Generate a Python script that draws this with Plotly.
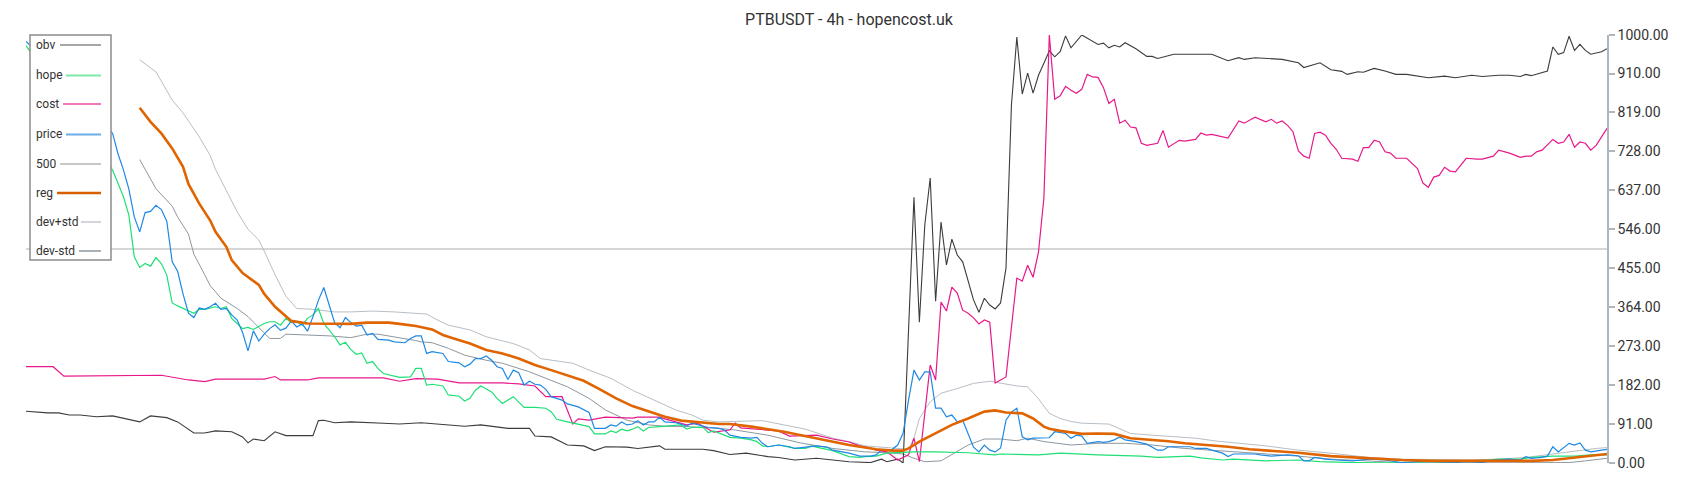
import plotly.graph_objects as go

# titulo e eixo
title = "PTBUSDT - 4h - hopencost.uk"
y_ticks = [0, 91, 182, 273, 364, 455, 546, 637, 728, 819, 910, 1000]
level_500 = 500
last_bar = 292

# series as (bar, value) pairs
obv = [(0, 121), (4, 117), (6, 117), (8, 112), (10, 112), (13, 108), (16, 110), (21, 96), (23, 110), (26, 106),
       (28, 96), (31, 70), (33, 70), (35, 75), (38, 73), (40, 61), (41, 47), (42, 56), (44, 52), (46, 73),
       (48, 64), (53, 64), (54, 99), (55, 100), (57, 94), (60, 96), (66, 93), (69, 91), (73, 94), (78, 89),
       (81, 86), (84, 89), (89, 81), (93, 81), (94, 63), (97, 61), (100, 42), (103, 40), (105, 29), (107, 38),
       (111, 37), (113, 34), (117, 40), (118, 32), (122, 32), (125, 32), (127, 29), (130, 20), (133, 23), (137, 15),
       (139, 13), (142, 7), (146, 11), (149, 7), (152, 3), (156, 1), (158, 9), (159, 3), (161, 9), (162, 0),
       (164, 621), (165, 329), (166, 556), (167, 666), (168, 378), (169, 563), (170, 463), (171, 523), (172, 486),
       (173, 470), (174, 427), (175, 381), (176, 352), (177, 385), (178, 369), (179, 360), (180, 374), (181, 456),
       (182, 836), (183, 995), (184, 862), (185, 911), (186, 864), (187, 906), (188, 934), (189, 963), (190, 949),
       (191, 961), (192, 998), (193, 970), (195, 1000), (197, 984), (198, 978), (199, 981), (200, 970), (201, 976),
       (202, 972), (203, 982), (205, 968), (207, 950), (208, 950), (209, 945), (212, 955), (219, 955), (222, 940),
       (224, 947), (225, 943), (227, 947), (229, 945), (232, 943), (235, 935), (236, 924), (239, 935), (241, 919),
       (243, 915), (244, 908), (246, 914), (247, 913), (249, 922), (251, 916), (253, 908), (255, 908), (259, 900),
       (262, 904), (264, 900), (267, 906), (269, 903), (272, 906), (274, 906), (276, 903), (277, 908), (278, 905),
       (281, 916), (282, 972), (283, 955), (284, 959), (285, 997), (286, 964), (287, 978), (288, 964), (289, 955),
       (291, 961), (292, 968)]

cost = [(0, 225), (5, 225), (7, 203), (14, 204), (25, 205), (30, 194), (33, 190), (35, 196), (44, 196), (46, 202),
        (47, 194), (52, 194), (54, 199), (66, 199), (69, 191), (72, 197), (76, 196), (80, 187), (88, 187), (91, 185),
        (94, 180), (96, 155), (99, 155), (101, 91), (102, 103), (104, 100), (107, 107), (112, 105), (113, 107),
        (117, 107), (118, 103), (122, 89), (124, 93), (127, 72), (130, 77), (131, 93), (132, 82), (137, 77),
        (139, 75), (141, 63), (146, 65), (149, 56), (152, 49), (154, 40), (156, 35), (157, 30), (159, 26), (161, 7),
        (163, 19), (164, 58), (165, 3), (167, 229), (168, 194), (169, 376), (170, 355), (171, 411), (172, 397),
        (173, 357), (174, 350), (175, 339), (176, 325), (177, 334), (178, 329), (179, 187), (181, 201), (183, 432),
        (184, 425), (185, 462), (186, 434), (187, 493), (188, 619), (189, 1000), (190, 850), (191, 858), (192, 880),
        (193, 871), (194, 864), (195, 873), (196, 908), (197, 902), (198, 901), (199, 877), (200, 840), (201, 850),
        (202, 794), (203, 801), (204, 785), (205, 783), (206, 747), (207, 742), (209, 747), (210, 777), (211, 738),
        (213, 754), (214, 752), (216, 756), (217, 771), (218, 766), (219, 768), (222, 759), (224, 799), (225, 794),
        (227, 808), (229, 797), (230, 803), (231, 794), (232, 799), (233, 789), (234, 774), (235, 729), (236, 717),
        (237, 712), (238, 770), (239, 773), (240, 766), (241, 747), (242, 733), (243, 712), (245, 710), (246, 705),
        (247, 737), (248, 737), (249, 754), (250, 750), (251, 727), (252, 724), (253, 712), (255, 712), (256, 700),
        (257, 688), (258, 654), (259, 644), (260, 668), (261, 672), (262, 691), (263, 682), (264, 680), (266, 712),
        (268, 710), (269, 710), (271, 717), (272, 731), (274, 724), (276, 714), (277, 717), (278, 717), (279, 727),
        (280, 731), (282, 756), (283, 747), (284, 750), (285, 768), (286, 738), (287, 750), (288, 747), (289, 731),
        (290, 742), (292, 782)]

price = [(0, 985), (8, 890), (13, 815), (16, 770), (17, 722), (18, 685), (19, 640), (20, 575), (21, 540), (22, 585),
         (23, 588), (24, 602), (25, 592), (26, 565), (27, 470), (28, 448), (29, 395), (30, 350), (31, 340), (32, 362),
         (33, 359), (34, 365), (35, 373), (36, 359), (37, 361), (38, 346), (39, 334), (40, 305), (41, 262), (42, 309),
         (43, 285), (44, 301), (45, 314), (46, 323), (47, 310), (48, 315), (49, 332), (50, 318), (51, 325), (52, 308),
         (53, 342), (54, 380), (55, 410), (56, 367), (57, 328), (58, 316), (59, 340), (60, 328), (61, 320), (62, 322),
         (63, 299), (64, 303), (65, 289), (67, 287), (68, 283), (70, 281), (71, 291), (72, 297), (73, 297), (74, 256),
         (75, 260), (77, 256), (78, 237), (80, 234), (81, 225), (82, 231), (83, 244), (84, 244), (85, 250), (86, 240),
         (87, 225), (88, 221), (89, 195), (90, 217), (91, 211), (92, 182), (93, 191), (94, 184), (95, 182), (96, 172),
         (97, 155), (99, 147), (100, 138), (102, 131), (104, 118), (105, 81), (107, 81), (108, 89), (109, 86),
         (110, 96), (111, 89), (112, 91), (113, 99), (114, 89), (115, 96), (116, 96), (117, 107), (118, 96), (120, 94),
         (121, 91), (122, 86), (123, 93), (125, 87), (126, 83), (127, 82), (128, 81), (129, 77), (130, 65), (132, 60),
         (134, 58), (135, 60), (136, 46), (137, 38), (138, 40), (139, 42), (141, 38), (142, 34), (144, 37), (146, 40),
         (148, 37), (149, 30), (152, 23), (154, 16), (156, 16), (157, 19), (158, 30), (160, 32), (161, 42), (162, 70),
         (163, 147), (164, 217), (165, 194), (166, 213), (167, 213), (168, 128), (169, 128), (170, 108), (171, 112),
         (172, 96), (173, 100), (174, 70), (175, 37), (176, 26), (177, 42), (178, 30), (179, 26), (180, 35),
         (181, 100), (182, 119), (183, 128), (184, 61), (185, 54), (186, 58), (187, 58), (189, 59), (190, 73),
         (192, 69), (193, 58), (194, 65), (195, 63), (196, 46), (198, 50), (199, 48), (200, 50), (201, 54), (202, 61),
         (203, 54), (205, 50), (207, 44), (209, 30), (210, 30), (211, 38), (213, 38), (215, 38), (216, 34), (218, 34),
         (219, 30), (221, 23), (222, 15), (223, 21), (225, 21), (227, 21), (228, 19), (230, 16), (233, 19), (235, 17),
         (236, 5), (237, 5), (238, 13), (240, 9), (242, 7), (245, 5), (248, 9), (251, 7), (254, 1), (257, 3), (260, 3),
         (264, 1), (266, 3), (269, 1), (271, 7), (274, 9), (276, 7), (277, 15), (278, 11), (280, 13), (281, 16),
         (282, 38), (283, 26), (285, 46), (286, 42), (287, 47), (288, 30), (289, 26), (291, 30), (292, 32)]

hope = [(0, 975), (8, 830), (13, 750), (16, 684), (18, 622), (19, 579), (20, 482), (21, 457), (22, 466), (23, 460),
        (24, 480), (25, 466), (26, 439), (27, 374), (28, 367), (30, 355), (31, 350), (32, 359), (33, 359), (35, 365),
        (36, 361), (37, 365), (38, 338), (39, 326), (40, 314), (41, 317), (42, 312), (44, 326), (45, 330), (46, 330),
        (47, 322), (48, 338), (49, 328), (50, 330), (51, 322), (52, 338), (53, 346), (54, 361), (55, 326), (57, 295),
        (58, 276), (59, 282), (60, 265), (61, 254), (62, 257), (63, 233), (64, 237), (65, 221), (66, 209), (69, 200),
        (71, 201), (72, 221), (73, 221), (74, 182), (75, 184), (77, 180), (78, 159), (80, 156), (81, 145), (82, 151),
        (83, 170), (84, 180), (86, 166), (87, 151), (88, 139), (90, 155), (92, 130), (94, 130), (96, 128), (97, 120),
        (98, 102), (100, 96), (102, 91), (104, 85), (105, 68), (107, 68), (108, 75), (109, 71), (110, 79), (111, 75),
        (112, 79), (113, 85), (114, 75), (115, 83), (117, 85), (118, 86), (121, 89), (122, 79), (123, 83), (125, 84),
        (126, 71), (127, 75), (129, 65), (130, 60), (132, 58), (134, 54), (135, 50), (136, 40), (137, 38), (139, 42),
        (141, 37), (142, 34), (144, 34), (145, 40), (147, 34), (149, 29), (152, 15), (154, 13), (155, 15), (157, 16),
        (159, 23), (161, 24), (164, 26), (168, 26), (174, 24), (179, 19), (180, 21), (187, 19), (191, 23), (198, 19),
        (206, 16), (209, 13), (215, 16), (217, 12), (221, 7), (223, 9), (229, 5), (235, 7), (239, 3), (245, 1),
        (257, 1), (260, 0), (266, 3), (270, 7), (272, 9), (276, 9), (278, 13), (282, 16), (286, 16), (289, 19),
        (292, 19)]

reg = [(21, 830), (23, 797), (25, 770), (27, 735), (29, 692), (30, 652), (32, 606), (34, 567), (35, 540), (37, 505),
       (38, 474), (40, 444), (43, 416), (44, 395), (46, 365), (48, 343), (49, 332), (52, 326), (56, 326), (60, 325),
       (63, 328), (67, 328), (69, 325), (72, 320), (75, 312), (77, 299), (79, 291), (82, 279), (85, 264), (88, 256),
       (91, 244), (94, 229), (97, 217), (100, 205), (103, 192), (106, 172), (109, 151), (112, 133), (115, 120),
       (118, 108), (121, 99), (125, 94), (128, 91), (130, 91), (134, 85), (140, 73), (146, 58), (152, 42), (157, 32),
       (160, 29), (162, 29), (163, 34), (165, 50), (168, 69), (171, 89), (174, 104), (177, 120), (179, 123),
       (181, 118), (184, 116), (186, 104), (188, 85), (189, 80), (191, 75), (193, 71), (195, 68), (198, 69),
       (201, 68), (204, 58), (208, 55), (211, 51), (214, 46), (218, 42), (222, 38), (226, 32), (231, 28), (235, 24),
       (241, 16), (248, 11), (254, 7), (260, 5), (278, 5), (282, 7), (285, 11), (288, 16), (292, 21)]

dev_hi = [(21, 942), (24, 914), (27, 848), (29, 818), (32, 762), (34, 719), (35, 686), (37, 637), (39, 587),
          (41, 546), (43, 521), (44, 495), (46, 440), (48, 390), (50, 361), (53, 359), (57, 353), (60, 353),
          (64, 355), (68, 353), (72, 350), (74, 348), (76, 334), (78, 322), (82, 311), (85, 295), (90, 279),
          (93, 264), (95, 244), (98, 238), (101, 233), (104, 217), (108, 198), (112, 170), (116, 147), (120, 124),
          (123, 112), (125, 100), (128, 96), (136, 99), (140, 89), (144, 79), (149, 58), (152, 50), (155, 40),
          (158, 37), (162, 34), (163, 32), (164, 58), (165, 104), (167, 143), (169, 163), (172, 174), (175, 186),
          (178, 191), (180, 186), (183, 180), (185, 178), (187, 150), (189, 116), (191, 104), (193, 97), (195, 93),
          (200, 91), (204, 69), (208, 65), (211, 63), (216, 58), (220, 51), (224, 46), (229, 40), (235, 30),
          (241, 23), (248, 13), (254, 9), (266, 7), (272, 9), (277, 13), (282, 21), (286, 29), (290, 34), (292, 36)]

dev_lo = [(21, 709), (24, 641), (27, 600), (28, 575), (30, 535), (31, 488), (33, 440), (34, 415), (36, 385),
          (39, 361), (41, 342), (43, 317), (45, 291), (47, 291), (48, 301), (52, 299), (56, 297), (60, 293),
          (63, 301), (65, 301), (68, 295), (72, 286), (73, 283), (75, 281), (78, 268), (81, 252), (85, 240),
          (88, 233), (93, 213), (96, 198), (100, 178), (104, 151), (107, 124), (111, 100), (115, 89), (118, 86),
          (122, 85), (128, 81), (131, 77), (137, 65), (143, 47), (149, 34), (155, 26), (159, 24), (162, 21),
          (164, 11), (166, 3), (169, 5), (171, 20), (174, 42), (177, 56), (180, 56), (183, 52), (185, 58), (188, 50),
          (191, 45), (193, 42), (198, 46), (203, 46), (208, 42), (214, 34), (220, 29), (226, 24), (232, 19),
          (235, 16), (241, 9), (248, 5), (254, 1), (260, 0), (278, 0), (285, 1), (288, 5), (292, 11)]

line_500 = [(0, level_500), (last_bar, level_500)]

# the page has the browser's 8px body margin, so figure coords = page coords - 8
OFF = 8
W, H = 1700, 500
PLOT_L, PLOT_R, PLOT_T, PLOT_B = 26, 1607, 35, 463   # plot area on the page


def px(x):
    return (x - PLOT_L) / (PLOT_R - PLOT_L)


def py(y):
    return (PLOT_B - y) / (PLOT_B - PLOT_T)


def split(pairs):
    return [p[0] for p in pairs], [p[1] for p in pairs]


# drawing order: name, data, colour, width
traces = [
    ("500", line_500, "#c8c8c8", 1.5),
    ("dev+std", dev_hi, "#b7bec5", 1),
    ("dev-std", dev_lo, "#8d979f", 1),
    ("obv", obv, "#3c3c3c", 1.1),
    ("cost", cost, "#e8188a", 1.2),
    ("hope", hope, "#1ee075", 1.2),
    ("price", price, "#1e88e5", 1.2),
    ("reg", reg, "#e06400", 2.6),
]

fig = go.Figure()
for name, data, color, width in traces:
    xs, ys = split(data)
    fig.add_trace(go.Scatter(x=xs, y=ys, mode="lines", name=name,
                             line=dict(color=color, width=width), showlegend=False))

# legend: text on the left, line sample on the right
legend_items = [
    ("obv", "#8a8a8a", 1.5, 45, 60),
    ("hope", "#7ee8a9", 2, 75.5, 66),
    ("cost", "#ef79b9", 2, 104, 63),
    ("price", "#6caee8", 2, 134.5, 66),
    ("500", "#c8c8c8", 2, 164, 60),
    ("reg", "#d86000", 2.5, 193, 57),
    ("dev+std", "#d2d6da", 2, 222, 81),
    ("dev-std", "#a9b1b8", 2, 251, 79),
]

shapes = [dict(type="rect", xref="paper", yref="paper", x0=px(30), x1=px(111), y0=py(260), y1=py(35),
               line=dict(color="#8c8c8c", width=1.5), fillcolor="white", layer="above")]
annotations = []
for name, color, width, row_y, sw_x in legend_items:
    shapes.append(dict(type="line", xref="paper", yref="paper", x0=px(sw_x), x1=px(101),
                       y0=py(row_y), y1=py(row_y), line=dict(color=color, width=width), layer="above"))
    annotations.append(dict(text=name, xref="paper", yref="paper", x=px(34), y=py(row_y),
                            xanchor="left", yanchor="middle", showarrow=False,
                            font=dict(family="Roboto", size=12, color="#333333")))

fig.update_layout(
    width=W, height=H,
    margin=dict(l=PLOT_L - OFF, r=W - (PLOT_R - OFF), t=PLOT_T - OFF, b=H - (PLOT_B - OFF)),
    paper_bgcolor="white", plot_bgcolor="white",
    title=dict(text=title, x=(849 - OFF) / W, xref="container", xanchor="center",
               y=1 - (19 - OFF) / H, yref="container", yanchor="middle",
               font=dict(family="Roboto", size=16, color="#333333")),
    xaxis=dict(visible=False, range=[0, last_bar]),
    yaxis=dict(side="right", range=[0, 1000], tickvals=y_ticks,
               ticktext=[f"{v:.2f}" for v in y_ticks],
               showgrid=False, zeroline=False, showline=True, linecolor="#aeb6be", linewidth=1.5,
               ticks="outside", ticklen=6, tickwidth=1.5, tickcolor="#aeb6be",
               tickfont=dict(family="Roboto", size=14, color="#333333")),
    shapes=shapes,
    annotations=annotations,
    showlegend=False,
)

fig.write_html("out.html")
